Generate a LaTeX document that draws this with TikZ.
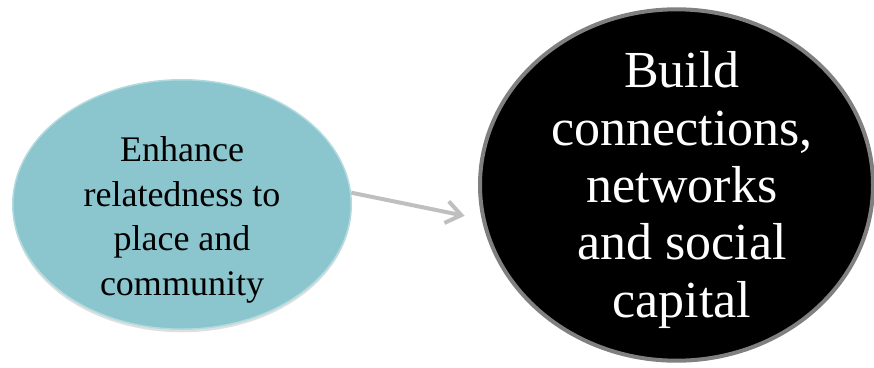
\documentclass[tikz,border=0pt]{standalone}
\usepackage{fontspec}
\setmainfont{Liberation Serif}
\usetikzlibrary{arrows.meta,shapes.geometric,shadows}
\definecolor{tealfill}{RGB}{139,198,206}
\definecolor{tealedge}{RGB}{178,219,224}
\definecolor{ringgray}{RGB}{128,128,128}
\definecolor{arrowgray}{RGB}{191,191,191}
\begin{document}
\begin{tikzpicture}[x=1pt,y=-1pt,
  leftoval/.style={ellipse, draw=tealedge, line width=1.5pt, fill=tealfill, minimum width=338.5pt, minimum height=249.5pt, inner sep=0pt, drop shadow={shadow xshift=0pt, shadow yshift=-3pt, opacity=0.25}},
  rightoval/.style={ellipse, draw=ringgray, line width=4pt, fill=black, minimum width=393pt, minimum height=351.4pt, inner sep=0pt},
  lefttext/.style={align=center, inner sep=0pt, font=\fontsize{36}{44.5}\selectfont},
  righttext/.style={align=center, inner sep=0pt, text=white, font=\fontsize{52}{57.4}\selectfont},
  link/.style={draw=arrowgray, line width=4pt, -{Straight Barb[length=15pt, width=22pt]}, shorten >=17.5pt}
]
\useasboundingbox (0,0) rectangle (874,367);
\node[leftoval] (L) at (182,204.5) {};
\node[rightoval] (R) at (676.5,185) {};
\node[lefttext] (Lt) at (182,220) {Enhance\\relatedness to\\place and\\community};
\node[righttext] (Rt) at (682,190) {Build\\connections,\\networks\\and social\\capital};
\draw[link] (L.4) -- (R.190);
\end{tikzpicture}
\end{document}
